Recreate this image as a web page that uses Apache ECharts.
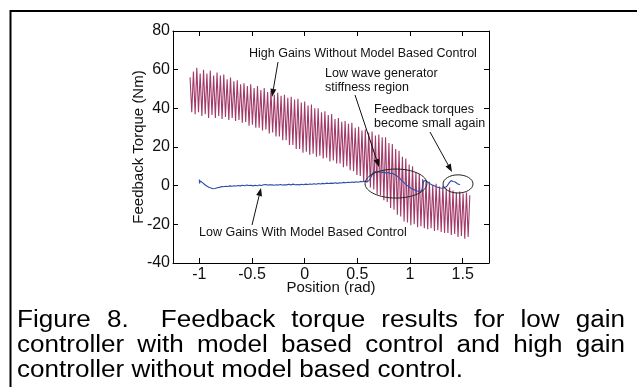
<!DOCTYPE html>
<html>
<head>
<meta charset="utf-8">
<script src="https://cdn.jsdelivr.net/npm/echarts@6/dist/echarts.min.js"></script>
<style>
  html, body { margin: 0; padding: 0; background: #fff; }
  #chart { width: 637px; height: 387px; }
</style>
</head>
<body>
<div id="chart"></div>
<script>
// tick positions on the x axis
const xTicks = [-1, -0.5, 0, 0.5, 1, 1.5];

// high gains without model based control (oscillating torque)
const posHigh = [
  -1.088, -1.072, -1.056, -1.040, -1.024, -1.008, -0.992, -0.976, -0.960, -0.944,
  -0.928, -0.912, -0.896, -0.880, -0.864, -0.848, -0.832, -0.816, -0.800, -0.784,
  -0.768, -0.752, -0.736, -0.720, -0.704, -0.688, -0.672, -0.656, -0.640, -0.624,
  -0.608, -0.592, -0.576, -0.560, -0.544, -0.528, -0.512, -0.496, -0.480, -0.464,
  -0.448, -0.432, -0.416, -0.400, -0.384, -0.368, -0.352, -0.336, -0.320, -0.304,
  -0.288, -0.272, -0.256, -0.240, -0.224, -0.208, -0.192, -0.176, -0.160, -0.144,
  -0.128, -0.112, -0.096, -0.080, -0.064, -0.048, -0.032, -0.016, 0.000, 0.016,
  0.032, 0.048, 0.064, 0.080, 0.096, 0.112, 0.128, 0.144, 0.160, 0.176,
  0.192, 0.208, 0.224, 0.240, 0.256, 0.272, 0.288, 0.304, 0.320, 0.336,
  0.352, 0.368, 0.384, 0.400, 0.416, 0.432, 0.448, 0.464, 0.480, 0.496,
  0.512, 0.528, 0.544, 0.560, 0.576, 0.592, 0.608, 0.624, 0.640, 0.656,
  0.672, 0.688, 0.704, 0.720, 0.736, 0.752, 0.768, 0.784, 0.800, 0.816,
  0.832, 0.848, 0.864, 0.880, 0.896, 0.912, 0.928, 0.944, 0.960, 0.976,
  0.992, 1.008, 1.024, 1.040, 1.056, 1.072, 1.088, 1.104, 1.120, 1.136,
  1.152, 1.168, 1.184, 1.200, 1.216, 1.232, 1.248, 1.264, 1.280, 1.296,
  1.312, 1.328, 1.344, 1.360, 1.376, 1.392, 1.408, 1.424, 1.440, 1.456,
  1.472, 1.488, 1.504, 1.520, 1.536, 1.552, 1.568
];
const torqueHigh = [
  56, 38, 59, 37, 61, 38, 58, 36, 60, 37,
  58, 35, 59.5, 36.5, 57, 35, 58.5, 36, 57, 34.5,
  57.5, 35.5, 55, 34, 56, 35, 54, 33.5, 54.5, 34,
  52.5, 32.5, 53, 33, 51.5, 31, 52.5, 31.5, 50.5, 30,
  51.5, 30, 49.5, 28.5, 50.5, 29, 48.5, 27, 49, 27.5,
  47, 25.5, 48, 25.5, 46.5, 23.5, 47, 23.5, 45.5, 21,
  46, 21, 44.5, 19, 45, 19, 43, 17, 43.5, 17.5,
  41.5, 16, 42, 16.5, 40, 15, 40, 15.5, 38, 14,
  38.5, 14.5, 36.5, 12.5, 37, 13, 34.5, 11.5, 35, 11.5,
  33, 9.5, 33.5, 10, 32, 8, 32.5, 7.5, 30, 5.5,
  30.5, 5, 28.5, 2, 29, 1.5, 27.5, -1, 28, -2,
  26, -4.5, 26.5, -5, 25, -7.5, 25, -8.5, 22, -11.5,
  21.5, -12.5, 19, -15, 18, -16, 15, -18.5, 14, -19,
  11, -20.5, 10, -20, 7, -21.5, 6, -21, 3.5, -22,
  2, -22.5, 2, -22, 0.5, -23.5, 1, -23, -0.5, -24,
  0, -24.5, -1.5, -24.5, -1, -25.5, -2.5, -25, -3.5, -26.5,
  -3, -26, -4, -27.5, -3.5, -26.5, -5
];

// low gains with model based control
const posLow = [
  -1.0, -0.998, -0.99, -0.97, -0.95, -0.93, -0.91, -0.89, -0.87, -0.85,
  -0.83, -0.81, -0.79, -0.77, -0.75, -0.73, -0.71, -0.69, -0.67, -0.65,
  -0.63, -0.61, -0.59, -0.57, -0.55, -0.53, -0.51, -0.49, -0.47, -0.45,
  -0.43, -0.41, -0.39, -0.37, -0.35, -0.33, -0.31, -0.29, -0.27, -0.25,
  -0.23, -0.21, -0.19, -0.17, -0.15, -0.13, -0.11, -0.09, -0.07, -0.05,
  -0.03, -0.01, 0.01, 0.03, 0.05, 0.07, 0.09, 0.11, 0.13, 0.15,
  0.17, 0.19, 0.21, 0.23, 0.25, 0.27, 0.29, 0.31, 0.33, 0.35,
  0.37, 0.39, 0.41, 0.43, 0.45, 0.47, 0.49, 0.51, 0.53, 0.55,
  0.57, 0.59, 0.61, 0.63, 0.65, 0.67, 0.69, 0.71, 0.73, 0.75,
  0.77, 0.79, 0.81, 0.83, 0.85, 0.87, 0.89, 0.91, 0.93, 0.95,
  0.97, 0.99, 1.01, 1.03, 1.05, 1.07, 1.09, 1.11, 1.12, 1.13,
  1.14, 1.15, 1.17, 1.19, 1.21, 1.23, 1.25, 1.27, 1.29, 1.31,
  1.33, 1.35, 1.37, 1.39, 1.40, 1.41, 1.42, 1.43, 1.44, 1.45,
  1.46, 1.475
];
const torqueLow = [
  3.2, 1.2, 2.4, 1.6, 0.6, -0.2, -0.8, -1.2, -1.6, -1.5,
  -1.1, -0.9, -0.5, -0.6, -0.3, -0.4, -0.1, -0.3, 0.0, -0.2,
  0.1, -0.1, 0.2, 0.0, 0.3, 0.1, 0.2, -0.1, 0.2, 0.0,
  0.3, 0.1, 0.5, 0.6, 0.3, 0.5, 0.4, 0.2, 0.5, 0.3,
  0.6, 0.3, 0.5, 0.4, 0.7, 0.4, 0.8, 0.5, 0.6, 0.4,
  0.7, 0.5, 0.8, 0.6, 0.9, 0.7, 1.0, 0.7, 1.1, 0.9,
  1.2, 1.0, 1.3, 1.1, 1.3, 1.2, 1.5, 1.2, 1.5, 1.4,
  1.7, 1.5, 1.8, 1.6, 1.9, 1.7, 2.0, 1.8, 2.2, 2.0,
  2.3, 2.1, 2.5, 4.5, 6.8, 7.3, 6.9, 7.2, 6.8, 7.0,
  6.6, 6.8, 6.3, 6.4, 5.9, 5.3, 4.4, 3.4, 2.2, 1.2,
  0.3, -0.6, -1.3, -1.9, -2.4, -2.8, -3.0, -2.7, -1.0, 2.5,
  3.5, 2.6, 1.8, 1.0, 0.4, -0.1, -0.6, -0.9, -1.2, -1.3,
  -1.0, -0.3, 1.3, 2.6, 3.0, 2.2, 1.6, 1.9, 1.2, 1.0,
  0.8, 0.5
];

// circled regions: [centre x, centre y, radius x, radius y] in data units
const regionLowStiffness = [0.867, 1.1, 0.294, 7.5];
const regionSmallAgain = [1.456, 0.9, 0.142, 4.7];

const captionLines = [
  'Figure 8.  Feedback torque results for low gain',
  'controller with model based control and high gain',
  'controller without model based control.'
];

const FONT = '"Liberation Sans", Arial, sans-serif';
const zip = (xs, ys) => xs.map((x, i) => [x, ys[i]]);

const chart = echarts.init(document.getElementById('chart'));

const tickStyle = { show: true, inside: true, length: 5, lineStyle: { color: '#000', width: 1 } };
const lineStyle = { show: true, onZero: false, lineStyle: { color: '#000', width: 1 } };

const option = {
  animation: false,
  textStyle: { fontFamily: FONT },
  grid: { left: 173, right: 148, top: 31, bottom: 124, outerBoundsMode: 'none' },
  xAxis: [
    {
      type: 'value', min: -1.25, max: 1.75, position: 'bottom',
      axisLine: lineStyle,
      axisTick: Object.assign({ customValues: xTicks }, tickStyle),
      axisLabel: { customValues: xTicks, color: '#111', fontSize: 16, margin: 4, fontFamily: FONT },
      splitLine: { show: false },
      name: 'Position (rad)', nameLocation: 'middle', nameGap: 17, nameMoveOverlap: false,
      nameTextStyle: { color: '#111', fontSize: 15, fontFamily: FONT }
    },
    {
      type: 'value', min: -1.25, max: 1.75, position: 'top',
      axisLine: lineStyle,
      axisTick: Object.assign({ customValues: xTicks }, tickStyle),
      axisLabel: { show: false },
      splitLine: { show: false }
    }
  ],
  yAxis: [
    {
      type: 'value', min: -40, max: 80, interval: 20, position: 'left',
      axisLine: lineStyle,
      axisTick: tickStyle,
      axisLabel: { color: '#111', fontSize: 16, margin: 3, fontFamily: FONT },
      splitLine: { show: false },
      name: 'Feedback Torque (Nm)', nameLocation: 'middle', nameGap: 27, nameMoveOverlap: false,
      nameTextStyle: { color: '#111', fontSize: 15, fontFamily: FONT }
    },
    {
      type: 'value', min: -40, max: 80, interval: 20, position: 'right',
      axisLine: lineStyle,
      axisTick: tickStyle,
      axisLabel: { show: false },
      splitLine: { show: false }
    }
  ],
  series: [
    {
      name: 'High Gains Without Model Based Control',
      type: 'line',
      data: zip(posHigh, torqueHigh),
      showSymbol: false,
      lineStyle: { color: '#a23a68', width: 1.1 },
      z: 2
    },
    {
      name: 'Low Gains With Model Based Control',
      type: 'line',
      data: zip(posLow, torqueLow),
      showSymbol: false,
      lineStyle: { color: '#2c4fae', width: 1.1 },
      z: 3
    }
  ]
};
chart.setOption(option);

// ---- annotations ----
const toPx = (p) => chart.convertToPixel({ xAxisIndex: 0, yAxisIndex: 0 }, p);

function ellipseFor(r) {
  const c = toPx([r[0], r[1]]);
  const e = toPx([r[0] + r[2], r[1] + r[3]]);
  return {
    type: 'ellipse',
    shape: { cx: c[0], cy: c[1], rx: Math.abs(e[0] - c[0]), ry: Math.abs(e[1] - c[1]) },
    style: { fill: 'none', stroke: '#222', lineWidth: 1 },
    z: 10
  };
}

function arrow(x1, y1, x2, y2) {
  const a = Math.atan2(y2 - y1, x2 - x1);
  const len = 8, half = 3;
  const bx = x2 - len * Math.cos(a), by = y2 - len * Math.sin(a);
  return [
    { type: 'line', shape: { x1: x1, y1: y1, x2: bx, y2: by }, style: { stroke: '#111', lineWidth: 1 }, z: 10 },
    {
      type: 'polygon',
      shape: { points: [[x2, y2], [bx - half * Math.sin(a), by + half * Math.cos(a)], [bx + half * Math.sin(a), by - half * Math.cos(a)]] },
      style: { fill: '#111' }, z: 10
    }
  ];
}

function label(text, x, y) {
  return {
    type: 'text', x: x, y: y, z: 11,
    style: { text: text, fill: '#111', font: '12.5px ' + FONT, align: 'left', verticalAlign: 'middle' }
  };
}

// caption: the text in the source is slightly stretched sideways, so words are
// scaled to make the last (unjustified) line end where it does in the figure
const capSize = 23, capLeft = 17, capRight = 625, lastLineEnd = 463;
const capFont = capSize + 'px ' + FONT;
const ctx = document.createElement('canvas').getContext('2d');
ctx.font = capFont;
const sx = (lastLineEnd - capLeft) / ctx.measureText(captionLines[2]).width;
const capY = [321, 346, 371];
const caption = [];
const capText = (t, x, y) => ({
  type: 'text', x: x, y: y, scaleX: sx,
  style: { text: t, font: capFont, fill: '#000', verticalAlign: 'middle' }
});
captionLines.forEach((line, li) => {
  if (li === captionLines.length - 1) {
    caption.push(capText(line, capLeft, capY[li]));
    return;
  }
  const words = line.split(' ');
  const used = words.reduce((s, w) => s + ctx.measureText(w).width * sx, 0);
  const gap = (capRight - capLeft - used) / (words.length - 1);
  let x = capLeft;
  words.forEach((w) => {
    if (w) caption.push(capText(w, x, capY[li]));
    x += ctx.measureText(w).width * sx + gap;
  });
});

chart.setOption({
  graphic: [].concat(
    [{ type: 'polyline', shape: { points: [[10.5, 387], [10.5, 11], [637, 11]] }, style: { stroke: '#000', lineWidth: 2, fill: 'none' } }],
    [ellipseFor(regionLowStiffness), ellipseFor(regionSmallAgain)],
    [label('High Gains Without Model Based Control', 249, 54)],
    arrow(278, 62, 272, 97),
    [label('Low wave generator', 325, 74), label('stiffness region', 325, 88)],
    arrow(355, 95, 379, 167),
    [label('Feedback torques', 374, 110), label('become small again', 374, 124)],
    arrow(430, 132, 452, 172),
    [label('Low Gains With Model Based Control', 199, 233)],
    arrow(252, 225, 261, 188),
    caption
  )
});
</script>
</body>
</html>
